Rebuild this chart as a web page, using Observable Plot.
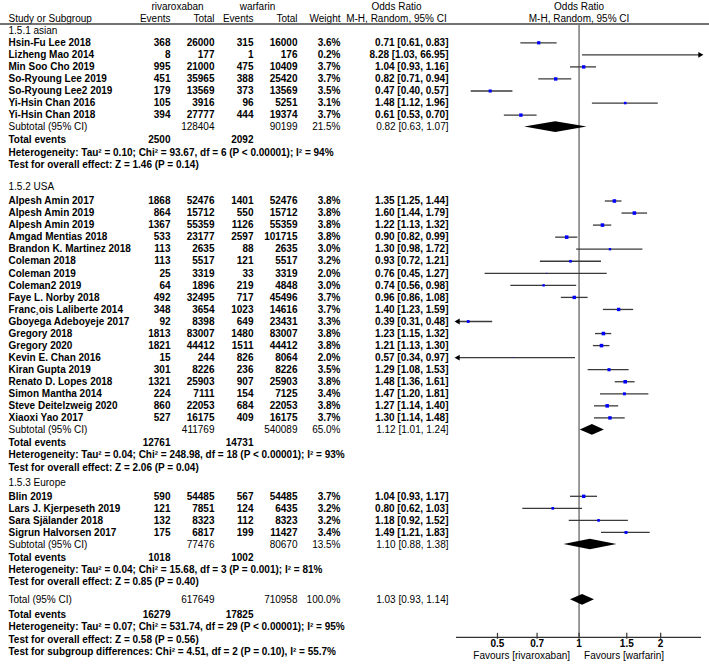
<!DOCTYPE html>
<html>
<head>
<meta charset="utf-8">
<script src="https://cdn.jsdelivr.net/npm/d3@7"></script>
<script src="https://cdn.jsdelivr.net/npm/@observablehq/plot@0.6"></script>
<style>
  body { margin: 0; background: #fff; }
  #wrap { position: relative; width: 709px; height: 667px; }
  #wrap svg { position: absolute; left: 0; top: 0; }
</style>
</head>
<body>
<div id="wrap"></div>
<script>
// ---------------- DATA ----------------
const headerRow1 = ["rivaroxaban", "warfarin", "Odds Ratio", "Odds Ratio"];
const headerRow2 = ["Study or Subgroup", "Events", "Total", "Events", "Total", "Weight", "M-H, Random, 95% CI", "M-H, Random, 95% CI"];

const groupNames = ["1.5.1 asian", "1.5.2 USA", "1.5.3 Europe"];
const studyGroup = [0,0,0,0,0,0,0, 1,1,1,1,1,1,1,1,1,1,1,1,1,1,1,1,1,1,1, 2,2,2,2];
const studyNames = [
  "Hsin-Fu Lee 2018","Lizheng Mao 2014","Min Soo Cho 2019","So-Ryoung Lee 2019","So-Ryoung Lee2 2019","Yi-Hsin Chan 2016","Yi-Hsin Chan 2018",
  "Alpesh Amin 2017","Alpesh Amin 2019","Alpesh Amin 2019","Amgad Mentias 2018","Brandon K. Martinez 2018","Coleman 2018","Coleman 2019","Coleman2 2019","Faye L. Norby 2018","Franc\u00b8ois Laliberte 2014","Gboyega Adeboyeje 2017","Gregory 2018","Gregory 2020","Kevin E. Chan 2016","Kiran Gupta 2019","Renato D. Lopes 2018","Simon Mantha 2014","Steve Deitelzweig 2020","Xiaoxi Yao 2017",
  "Blin 2019","Lars J. Kjerpeseth 2019","Sara Sj\u00e4lander 2018","Sigrun Halvorsen 2017"
];
const rivaEvents = [368,8,995,451,179,105,394, 1868,864,1367,533,113,113,25,64,492,348,92,1813,1821,15,301,1321,224,860,527, 590,121,132,175];
const rivaTotal  = [26000,177,21000,35965,13569,3916,27777, 52476,15712,55359,23177,2635,5517,3319,1896,32495,3654,8398,83007,44412,244,8226,25903,7111,22053,16175, 54485,7851,8323,6817];
const warfEvents = [315,1,475,388,373,96,444, 1401,550,1126,2597,88,121,33,219,717,1023,649,1480,1511,826,236,907,154,684,409, 567,124,112,199];
const warfTotal  = [16000,176,10409,25420,13569,5251,19374, 52476,15712,55359,101715,2635,5517,3319,4848,45496,14616,23431,83007,44412,8064,8226,25903,7125,22053,16175, 54485,6435,8323,11427];
const weights    = [3.6,0.2,3.7,3.7,3.5,3.1,3.7, 3.8,3.8,3.8,3.8,3.0,3.2,2.0,3.0,3.7,3.7,3.3,3.8,3.8,2.0,3.5,3.8,3.4,3.8,3.7, 3.7,3.2,3.2,3.4];
const orEst  = [0.71,8.28,1.04,0.82,0.47,1.48,0.61, 1.35,1.60,1.22,0.90,1.30,0.93,0.76,0.74,0.96,1.40,0.39,1.23,1.21,0.57,1.29,1.48,1.47,1.27,1.30, 1.04,0.80,1.18,1.49];
const orLow  = [0.61,1.03,0.93,0.71,0.40,1.12,0.53, 1.25,1.44,1.13,0.82,0.98,0.72,0.45,0.56,0.86,1.23,0.31,1.15,1.13,0.34,1.08,1.36,1.20,1.14,1.14, 0.93,0.62,0.92,1.21];
const orHigh = [0.83,66.95,1.16,0.94,0.57,1.96,0.70, 1.44,1.79,1.32,0.99,1.72,1.21,1.27,0.98,1.08,1.59,0.48,1.32,1.30,0.97,1.53,1.61,1.81,1.40,1.48, 1.17,1.03,1.52,1.83];

const subRivaTotal = [128404, 411769, 77476];
const subWarfTotal = [90199, 540089, 80670];
const subWeight = [21.5, 65.0, 13.5];
const subEst  = [0.82, 1.12, 1.10];
const subLow  = [0.63, 1.01, 0.88];
const subHigh = [1.07, 1.24, 1.38];
const subRivaEvents = [2500, 12761, 1018];
const subWarfEvents = [2092, 14731, 1002];
const subHet = [
  "Heterogeneity: Tau\u00b2 = 0.10; Chi\u00b2 = 93.67, df = 6 (P < 0.00001); I\u00b2 = 94%",
  "Heterogeneity: Tau\u00b2 = 0.04; Chi\u00b2 = 248.98, df = 18 (P < 0.00001); I\u00b2 = 93%",
  "Heterogeneity: Tau\u00b2 = 0.04; Chi\u00b2 = 15.68, df = 3 (P = 0.001); I\u00b2 = 81%"
];
const subTest = [
  "Test for overall effect: Z = 1.46 (P = 0.14)",
  "Test for overall effect: Z = 2.06 (P = 0.04)",
  "Test for overall effect: Z = 0.85 (P = 0.40)"
];

const totalRivaTotal = 617649, totalWarfTotal = 710958, totalWeight = 100.0;
const totalEst = 1.03, totalLow = 0.93, totalHigh = 1.14;
const totalRivaEvents = 16279, totalWarfEvents = 17825;
const totalLines = [
  "Heterogeneity: Tau\u00b2 = 0.07; Chi\u00b2 = 531.74, df = 29 (P < 0.00001); I\u00b2 = 95%",
  "Test for overall effect: Z = 0.58 (P = 0.56)",
  "Test for subgroup differences: Chi\u00b2 = 4.51, df = 2 (P = 0.10), I\u00b2 = 55.7%"
];
const xTicks = [0.5, 0.7, 1, 1.5, 2];
const favourLabels = ["Favours [rivaroxaban]", "Favours [warfarin]"];

// ---------------- LAYOUT ----------------
const W = 709, H = 667;
const U = 12.05;                 // px per row unit
const FONT = "'Liberation Sans', Arial, sans-serif";
const FS = 10;
const xDomain = [0.353, 2.83];
const forestRange = [456, 701];
const COL = {name: 8, rEv: 170, rTot: 214, wEv: 253, wTot: 297, weight: 340, or: 448, orHead: 396, rivaHead: 177, warfHead: 257};

let cur = 0;
const step = px => (cur += px) / U;
const cells = [];
const add = (x, y, text, anchor, bold) => cells.push({x, y, text, anchor, bold});
const fmtOR = (e, l, h) => `${e.toFixed(2)} [${l.toFixed(2)}, ${h.toFixed(2)}]`;
const fmtW = w => `${w.toFixed(1)}%`;

const forestHead = [];
const yH1 = step(6);
add(COL.rivaHead, yH1, headerRow1[0], "middle", false);
add(COL.warfHead, yH1, headerRow1[1], "middle", false);
add(COL.orHead, yH1, headerRow1[2], "middle", false);
forestHead.push({y: yH1, text: headerRow1[3]});
const yH2 = step(12);
add(COL.name, yH2, headerRow2[0], "start", false);
add(COL.rEv, yH2, headerRow2[1], "end", false);
add(COL.rTot, yH2, headerRow2[2], "end", false);
add(COL.wEv, yH2, headerRow2[3], "end", false);
add(COL.wTot, yH2, headerRow2[4], "end", false);
add(COL.weight, yH2, headerRow2[5], "end", false);
add(COL.orHead, yH2, headerRow2[6], "middle", false);
forestHead.push({y: yH2, text: headerRow2[7]});
const yLine = (cur + 5.5) / U;

const gapBeforeGroup = [12, 22.5, 15];
const gapHeaderToFirst = [12.3, 14, 14];
const studyRows = [];
const diamonds = [];
groupNames.forEach((gName, g) => {
  add(COL.name, step(gapBeforeGroup[g]), gName, "start", false);
  let first = true;
  studyNames.forEach((name, i) => {
    if (studyGroup[i] !== g) return;
    const y = step(first ? gapHeaderToFirst[g] : U);
    first = false;
    add(COL.name, y, name, "start", true);
    add(COL.rEv, y, String(rivaEvents[i]), "end", true);
    add(COL.rTot, y, String(rivaTotal[i]), "end", true);
    add(COL.wEv, y, String(warfEvents[i]), "end", true);
    add(COL.wTot, y, String(warfTotal[i]), "end", true);
    add(COL.weight, y, fmtW(weights[i]), "end", true);
    add(COL.or, y, fmtOR(orEst[i], orLow[i], orHigh[i]), "end", true);
    studyRows.push({y, est: orEst[i], lo: orLow[i], hi: orHigh[i], w: weights[i]});
  });
  const ys = step(12);
  add(COL.name, ys, "Subtotal (95% CI)", "start", false);
  add(COL.rTot, ys, String(subRivaTotal[g]), "end", false);
  add(COL.wTot, ys, String(subWarfTotal[g]), "end", false);
  add(COL.weight, ys, fmtW(subWeight[g]), "end", false);
  add(COL.or, ys, fmtOR(subEst[g], subLow[g], subHigh[g]), "end", false);
  diamonds.push({id: g, y: ys, est: subEst[g], lo: subLow[g], hi: subHigh[g]});
  const ye = step(13);
  add(COL.name, ye, "Total events", "start", true);
  add(COL.rEv, ye, String(subRivaEvents[g]), "end", true);
  add(COL.wEv, ye, String(subWarfEvents[g]), "end", true);
  add(COL.name, step(12.2), subHet[g], "start", true);
  add(COL.name, step(12.2), subTest[g], "start", true);
});
const yT = step(18);
add(COL.name, yT, "Total (95% CI)", "start", false);
add(COL.rTot, yT, String(totalRivaTotal), "end", false);
add(COL.wTot, yT, String(totalWarfTotal), "end", false);
add(COL.weight, yT, fmtW(totalWeight), "end", false);
add(COL.or, yT, fmtOR(totalEst, totalLow, totalHigh), "end", false);
diamonds.push({id: 9, y: yT, est: totalEst, lo: totalLow, hi: totalHigh});
const yTE = step(14.5);
add(COL.name, yTE, "Total events", "start", true);
add(COL.rEv, yTE, String(totalRivaEvents), "end", true);
add(COL.wEv, yTE, String(totalWarfEvents), "end", true);
const yTotalLines = totalLines.map(t => { const y = step(12.5); add(COL.name, y, t, "start", true); return y; });
const axisY = yTotalLines[1] - 2 / U;

const DH = 5.3 / U; // diamond half height
const diamondPts = diamonds.flatMap(d => [
  {id: d.id, y: d.y - DH, x1: d.est, x2: d.est},
  {id: d.id, y: d.y, x1: d.lo, x2: d.hi},
  {id: d.id, y: d.y + DH, x1: d.est, x2: d.est}
]);
const inDomain = v => v >= xDomain[0] && v <= xDomain[1];
const rightArrows = studyRows.filter(d => d.hi > xDomain[1]);
const leftArrows = studyRows.filter(d => d.lo < xDomain[0]);

function textMarks(cs) {
  const marks = [];
  for (const anchor of ["start", "middle", "end"]) for (const bold of [false, true]) {
    const sub = cs.filter(c => c.anchor === anchor && c.bold === bold);
    if (sub.length) marks.push(Plot.text(sub, {x: "x", y: "y", text: "text", textAnchor: anchor, fontWeight: bold ? "bold" : "normal", fontSize: FS, fill: "black"}));
  }
  return marks;
}

const yScale = {domain: [0, H / U], range: [0, H], axis: null};

const table = Plot.plot({
  width: W, height: H, margin: 0,
  x: {type: "identity", axis: null},
  y: yScale,
  style: {fontFamily: FONT, background: "white", overflow: "visible"},
  marks: [
    ...textMarks(cells),
    Plot.ruleY([yLine], {x1: 0, x2: W, stroke: "#444", strokeWidth: 1.5})
  ]
});

const forest = Plot.plot({
  width: W, height: H, margin: 0,
  x: {type: "log", domain: xDomain, range: forestRange, clamp: true, axis: null},
  y: yScale,
  r: {type: "linear", domain: [2, 3.8], range: [0.5, 2], clamp: true},
  style: {fontFamily: FONT, background: "transparent", overflow: "visible"},
  marks: [
    Plot.text(forestHead, {x: 1, y: "y", text: "text", fontSize: FS, fill: "black"}),
    Plot.ruleX([1], {y1: yLine, y2: axisY, stroke: "#7a7a7a", strokeWidth: 1.5}),
    Plot.ruleY(studyRows, {y: "y", x1: "lo", x2: "hi", stroke: "#3a3a3a", strokeWidth: 1.3}),
    Plot.dot(studyRows.filter(d => inDomain(d.est)), {x: "est", y: "y", r: "w", symbol: "square", fill: "#0000ff", stroke: null}),
    Plot.dot(rightArrows, {x: () => xDomain[1], y: "y", symbol: "triangle", rotate: 90, r: 2.2, dx: -1.5, fill: "black", stroke: null}),
    Plot.dot(leftArrows, {x: () => xDomain[0], y: "y", symbol: "triangle", rotate: -90, r: 2.2, dx: 1.5, fill: "black", stroke: null}),
    Plot.areaX(diamondPts, {y: "y", x1: "x1", x2: "x2", z: "id", fill: "black"}),
    Plot.ruleY([axisY], {x1: xDomain[0], x2: xDomain[1], stroke: "#333", strokeWidth: 1.2}),
    Plot.ruleX(xTicks, {x: d => d, y1: axisY - 4 / U, y2: axisY + 2 / U, stroke: "#333", strokeWidth: 1.2}),
    Plot.text(xTicks, {x: d => d, y: axisY + 6.5 / U, text: d => String(d), fontSize: FS, fontWeight: "bold", fill: "black"}),
    Plot.text([favourLabels[0]], {x: 1, y: axisY + 18 / U, dx: -9, text: d => d, textAnchor: "end", fontSize: FS, fill: "black"}),
    Plot.text([favourLabels[1]], {x: 1, y: axisY + 18 / U, dx: 5, text: d => d, textAnchor: "start", fontSize: FS, fill: "black"})
  ]
});

const wrap = document.getElementById("wrap");
wrap.appendChild(table);
wrap.appendChild(forest);
</script>
</body>
</html>
